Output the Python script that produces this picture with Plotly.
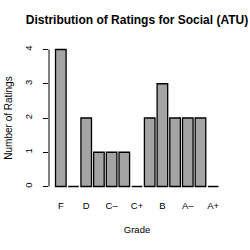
import plotly.graph_objects as go

grades = ["F", "D-", "D", "D+", "C-", "C", "C+", "B-", "B", "B+", "A-", "A", "A+"]
counts = [4, 0, 2, 1, 1, 1, 0, 2, 3, 2, 2, 2, 0]
shown_labels = ["F", "D", "C\u2013", "C+", "B", "A\u2013", "A+"]
y_ticks = [0, 1, 2, 3, 4]

font = "Liberation Sans, Arial, sans-serif"

fig = go.Figure(go.Bar(
    x=list(range(len(grades))),
    y=counts,
    width=0.833,
    marker=dict(
        color="#a0a0a0",
        line=dict(color="black", width=1.3),
        pattern=dict(shape=".", size=2, solidity=0.5, fgcolor="#7a7a7a", bgcolor="#b0b0b0"),
    ),
    hovertext=grades,
))

fig.update_layout(
    width=250, height=250,
    margin=dict(l=49, r=24.5, t=44, b=58),
    paper_bgcolor="white", plot_bgcolor="white",
    showlegend=False,
    title=dict(text="<b>Distribution of Ratings for Social (ATU)</b>",
               x=0.5, xanchor="center", xref="paper", y=0.92, yanchor="middle",
               font=dict(family=font, size=12, color="black")),
    font=dict(family=font, color="black"),
)

fig.update_xaxes(
    range=[-0.93, len(grades) - 1 + 0.93],
    tickvals=list(range(0, len(grades), 2)),
    ticktext=shown_labels,
    showline=False, showgrid=False, zeroline=False, ticks="",
    tickfont=dict(size=9.5, color="black"), ticklabelstandoff=6,
    title=dict(text="Grade", font=dict(size=9.5, color="black"), standoff=16),
    automargin=False,
)

fig.update_yaxes(
    range=[-0.16, 4.16],
    tickvals=y_ticks,
    showline=False, showgrid=False, zeroline=False,
    ticks="outside", ticklen=5, tickcolor="black", tickwidth=1,
    tickangle=-90, tickfont=dict(size=9.5, color="black"), ticklabelstandoff=7,
    title=dict(text="Number of Ratings", font=dict(size=10, color="black"), standoff=8),
    automargin=False,
)

fig.add_shape(type="line", xref="paper", yref="y", x0=0, x1=0,
              y0=min(y_ticks), y1=max(y_ticks), line=dict(color="black", width=1))

fig.write_html("out.html")
